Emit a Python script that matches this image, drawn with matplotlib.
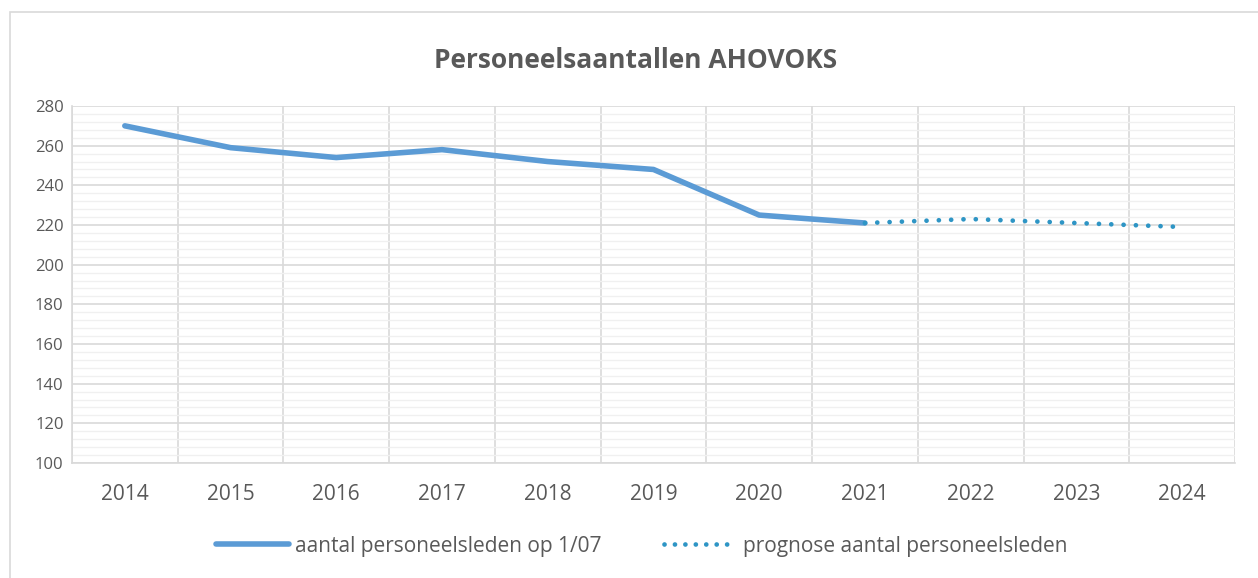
import matplotlib.pyplot as plt
import matplotlib.patches as patches
from matplotlib.ticker import MultipleLocator
from matplotlib.lines import Line2D
import numpy as np

plt.rcParams['font.family'] = ['Open Sans', 'DejaVu Sans']

# data
years = ['2014', '2015', '2016', '2017', '2018', '2019', '2020', '2021', '2022', '2023', '2024']
actual = [270, 259, 254, 258, 252, 248, 225, 221]
forecast_years = ['2021', '2022', '2023', '2024']
forecast = [221, 223, 221, 219]

txt = '#595959'
dots = (0, (0.01, 2.6))

fig = plt.figure(figsize=(12.58, 5.78), dpi=100)
ax = fig.add_axes([0.0572, 0.199, 0.9245, 0.6176])

x_act = np.arange(len(actual))
x_fc = np.array([years.index(y) for y in forecast_years])

ax.plot(x_act, actual, color='#5B9BD5', lw=4.0, solid_capstyle='round',
        solid_joinstyle='round', zorder=3)
ax.plot(x_fc, forecast, color='#2E95C5', lw=3.4,
        linestyle=dots, dash_capstyle='round', zorder=3)

ax.set_xlim(-0.5, len(years) - 0.5)
ax.set_ylim(100, 280)
ax.yaxis.set_major_locator(MultipleLocator(20))
ax.yaxis.set_minor_locator(MultipleLocator(4))
ax.set_xticks(range(len(years)))
ax.set_xticklabels(years)
ax.set_xticks(np.arange(-0.5, len(years), 1), minor=True)

ax.grid(which='major', axis='y', color='#D9D9D9', lw=1.2, zorder=1)
ax.grid(which='minor', axis='y', color='#F0F0F0', lw=1.0, zorder=0)
ax.grid(which='minor', axis='x', color='#D9D9D9', lw=1.2, zorder=1)
ax.grid(which='major', axis='x', visible=False)

for s in ['top', 'right']:
    ax.spines[s].set_visible(False)
for s in ['left', 'bottom']:
    ax.spines[s].set_color('#D9D9D9')
    ax.spines[s].set_linewidth(1.2)

ax.tick_params(axis='both', which='both', length=0)
ax.tick_params(axis='y', labelsize=12, labelcolor=txt, pad=6)
ax.tick_params(axis='x', labelsize=15, labelcolor=txt, pad=15)

fig.text(0.505, 0.896, 'Personeelsaantallen AHOVOKS', ha='center', va='center',
         fontsize=19, fontweight='bold', color=txt)

handles = [
    Line2D([], [], color='#5B9BD5', lw=4.0, solid_capstyle='round'),
    Line2D([], [], color='#2E95C5', lw=3.4, linestyle=(0, (0.01, 2.2)), dash_capstyle='round'),
]
leg = fig.legend(handles, ['aantal personeelsleden op 1/07', 'prognose aantal personeelsleden'],
                 loc='center', bbox_to_anchor=(0.51, 0.055), ncol=2, frameon=False,
                 fontsize=15, handlelength=3.5, handletextpad=0.3, columnspacing=3.0)
for t in leg.get_texts():
    t.set_color(txt)

fig.patches.append(patches.Rectangle((0.008, -0.01), 1.2, 0.99, transform=fig.transFigure,
                                     fill=False, edgecolor='#D9D9D9', lw=1.2))

fig.savefig('out.png', dpi=100)
